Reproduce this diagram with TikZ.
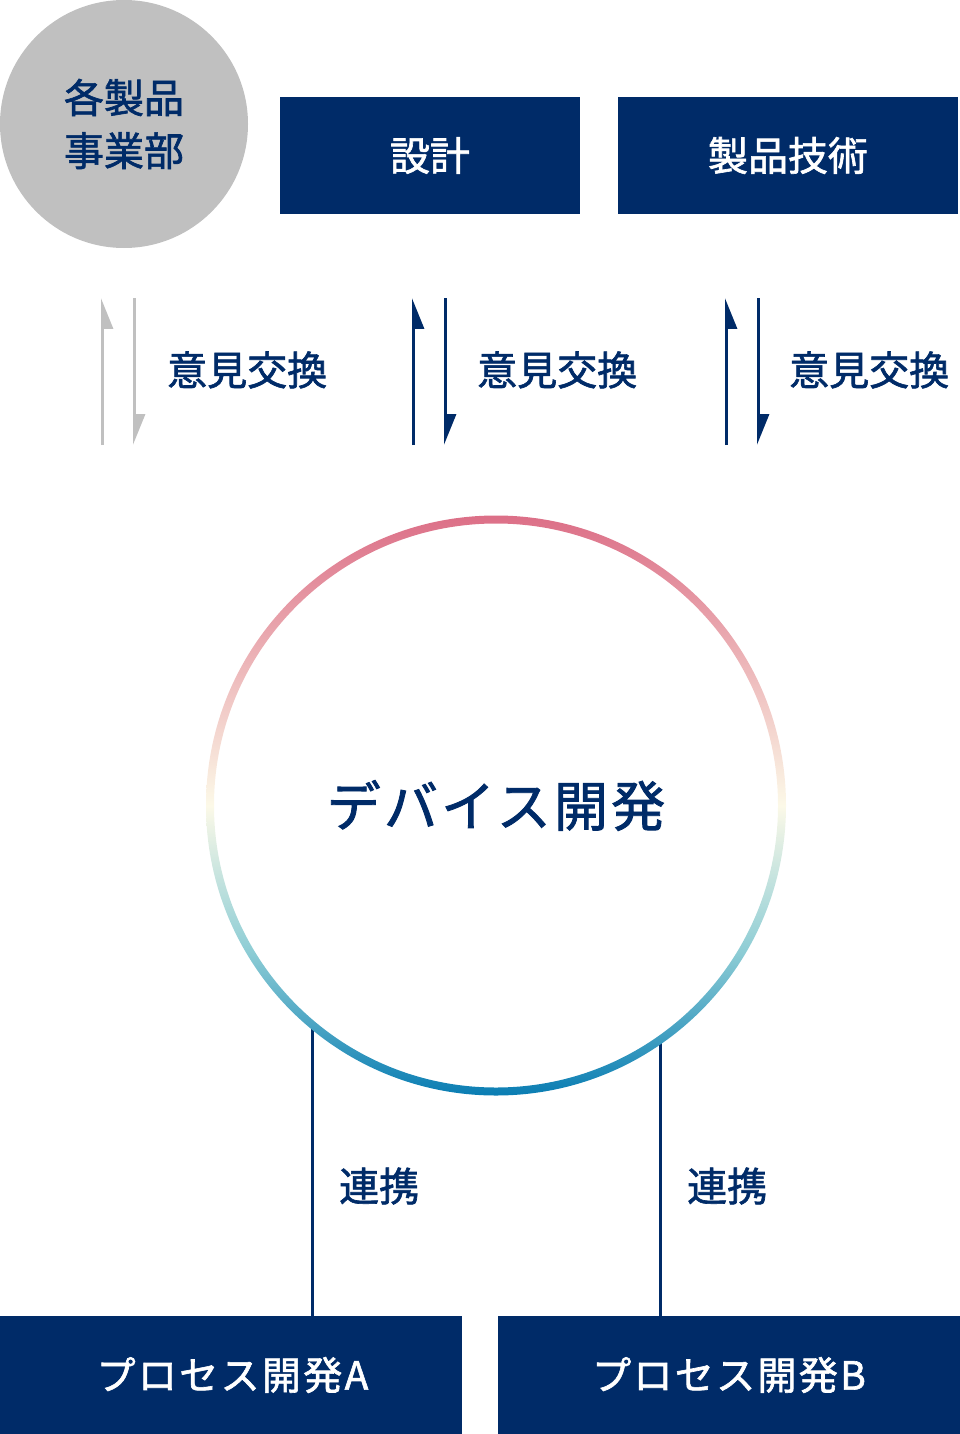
\documentclass[tikz,border=0pt]{standalone}
\usepackage{fontspec}
\setmainfont{Noto Sans CJK JP}[RawFeature={embolden=1.6}]
\newfontfamily\jpwide{Noto Sans CJK JP}[LetterSpace=6, RawFeature={embolden=1.6}]
\usetikzlibrary{arrows.meta,positioning}

\definecolor{navy}{RGB}{0,43,104}
\definecolor{divgray}{RGB}{192,192,192}
\definecolor{ringtop}{RGB}{220,111,135}
\definecolor{ringmid}{RGB}{252,249,232}
\definecolor{ringteal}{RGB}{142,205,213}
\definecolor{ringbot}{RGB}{10,125,179}

\pgfdeclareverticalshading{ringshade}{100bp}{color(0bp)=(ringbot); color(25bp)=(ringbot); color(37.5bp)=(ringteal); color(50bp)=(ringmid); color(75bp)=(ringtop); color(100bp)=(ringtop)}

\tikzset{
  box/.style={fill=navy, text=white, inner sep=0pt, minimum height=117pt, font=\fontsize{40}{40}\selectfont},
  procbox/.style={box, minimum width=462pt, minimum height=118pt, font=\jpwide\fontsize{39}{39}\selectfont},
  talk/.style={anchor=west, inner sep=0pt, text=navy, font=\fontsize{40}{40}\selectfont},
  upflow/.style={line width=3pt, -{Triangle[harpoon, swap, length=27pt, width=21pt]}},
  downflow/.style={line width=3pt, -{Triangle[harpoon, length=27pt, width=21pt]}},
  link/.style={navy, line width=3pt}
}

\begin{document}
\begin{tikzpicture}[x=1pt, y=-1pt]
\useasboundingbox (0,0) rectangle (960,1434);

\def \ya{298}
\def \yb{445}

% top row
\node[circle, fill=divgray, minimum size=248pt, inner sep=0pt, text=navy, align=center, font=\fontsize{40}{53}\selectfont] (unit) at (124,124) {各製品\\事業部};
\node[box, minimum width=300pt] (sekkei) at (430,155.5) {設計};
\node[box, minimum width=340pt] (gijutsu) at (788,155.5) {製品技術};

% exchange arrows
\coordinate (ua1) at (102.5,\yb);
\coordinate (ub1) at (102.5,\ya);
\coordinate (da1) at (134.5,\ya);
\coordinate (db1) at (134.5,\yb);
\draw[upflow, divgray] (ua1) -- (ub1);
\draw[downflow, divgray] (da1) -- (db1);
\node[talk] (ex1) at (167,370) {意見交換};

\coordinate (ua2) at (413.5,\yb);
\coordinate (ub2) at (413.5,\ya);
\coordinate (da2) at (445.5,\ya);
\coordinate (db2) at (445.5,\yb);
\draw[upflow, navy] (ua2) -- (ub2);
\draw[downflow, navy] (da2) -- (db2);
\node[talk] (ex2) at (477,370) {意見交換};

\coordinate (ua3) at (726.5,\yb);
\coordinate (ub3) at (726.5,\ya);
\coordinate (da3) at (758.5,\ya);
\coordinate (db3) at (758.5,\yb);
\draw[upflow, navy] (ua3) -- (ub3);
\draw[downflow, navy] (da3) -- (db3);
\node[talk] (ex3) at (789,370) {意見交換};

% device circle
\node[circle, minimum size=572pt, inner sep=0pt, text=navy, font=\jpwide\fontsize{54}{54}\selectfont] (dev) at (496,805.5) {デバイス開発};

% bottom row
\node[procbox] (procA) at (231,1375) {\hspace*{3pt}プロセス開発A};
\node[procbox] (procB) at (729,1375) {プロセス開発B};

\draw[link] (dev.-130) -- (dev.-130 |- procA.north);
\draw[link] (dev.-55) -- (dev.-55 |- procB.north);
\node[talk] (renA) at (339,1186) {連携};
\node[talk] (renB) at (687,1186) {連携};

% gradient ring
\shade[shading=ringshade, even odd rule] (dev.center) circle (290) circle (282);

\end{tikzpicture}
\end{document}
